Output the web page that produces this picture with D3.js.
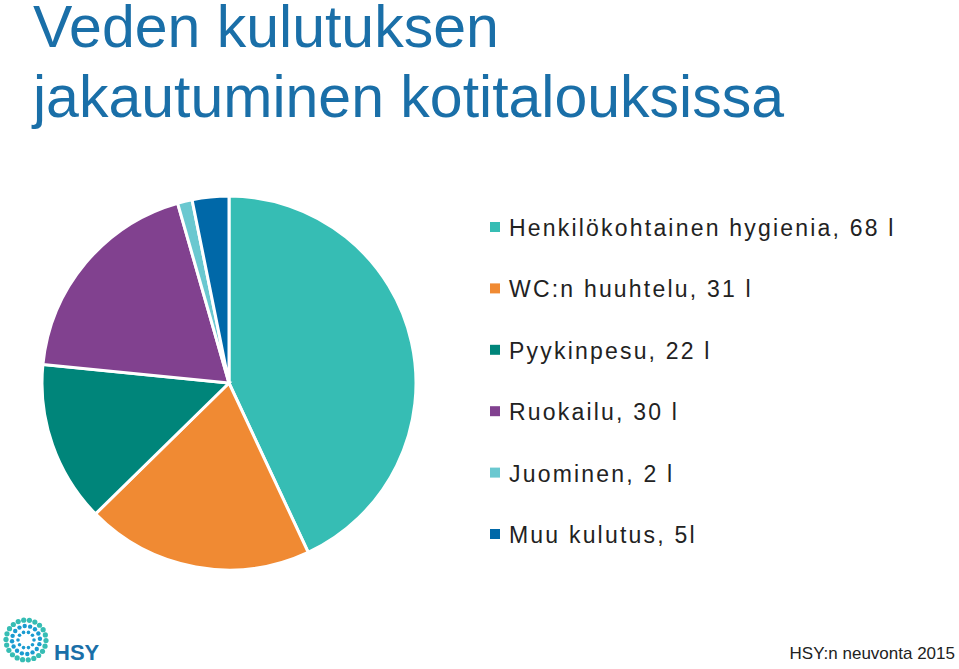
<!DOCTYPE html>
<html><head><meta charset="utf-8">
<script src="https://cdn.jsdelivr.net/npm/d3@7"></script>
<style>body{margin:0;background:#fff}svg{display:block}</style>
</head><body>
<script>
const labels = ["Henkilökohtainen hygienia, 68 l","WC:n huuhtelu, 31 l","Pyykinpesu, 22 l","Ruokailu, 30 l","Juominen, 2 l","Muu kulutus, 5l"];
const values = [68,31,22,30,2,5];
const colors = ["#36bdb4","#f08a33","#00857a","#81418f","#6ac8d0","#0068a8"];

const svg = d3.select("body").append("svg").attr("width",959).attr("height",669)
  .style("font-family","'Liberation Sans',Arial,sans-serif");

svg.append("text").attr("x",33).attr("y",47).attr("font-size",59).attr("fill","#1a6fa8").text("Veden kulutuksen");
svg.append("text").attr("x",33).attr("y",117).attr("font-size",59).attr("fill","#1a6fa8").text("jakautuminen kotitalouksissa");

const pie = d3.pie().sort(null)(values);
const arc = d3.arc().innerRadius(0).outerRadius(187);
svg.append("g").attr("transform","translate(229,383)")
  .selectAll("path").data(pie).enter().append("path")
  .attr("d",arc).attr("fill",(d,i)=>colors[i])
  .attr("stroke","#fff").attr("stroke-width",3);

const y = d3.scalePoint().domain(d3.range(labels.length)).range([227,534]);
const lg = svg.append("g").selectAll("g").data(labels).enter().append("g")
  .attr("transform",(d,i)=>`translate(490,${y(i)})`);
lg.append("rect").attr("x",0).attr("y",-5).attr("width",10).attr("height",10).attr("fill",(d,i)=>colors[i]);
lg.append("text").attr("x",19).attr("y",9).attr("font-size",23).attr("letter-spacing",2.2)
  .attr("fill","#222").text(d=>d);

// logo
const logo = svg.append("g").attr("transform","translate(26,640)");
for(let r=0;r<3;r++){
  const rad = 8+r*6, n = 10+r*6;
  for(let k=0;k<n;k++){
    const a = k/n*2*Math.PI + r*0.3;
    logo.append("circle").attr("cx",rad*Math.cos(a)).attr("cy",rad*Math.sin(a)).attr("r",1.8+r*0.4)
      .attr("fill", r===2 ? "#36bdb4" : "#1a9bd0");
  }
}
svg.append("text").attr("x",54).attr("y",660).attr("font-size",22).attr("font-weight","bold").attr("fill","#1a6fa8").text("HSY");
svg.append("text").attr("x",955).attr("y",659).attr("text-anchor","end").attr("font-size",17).attr("fill","#222").text("HSY:n neuvonta 2015");
</script>
</body></html>
